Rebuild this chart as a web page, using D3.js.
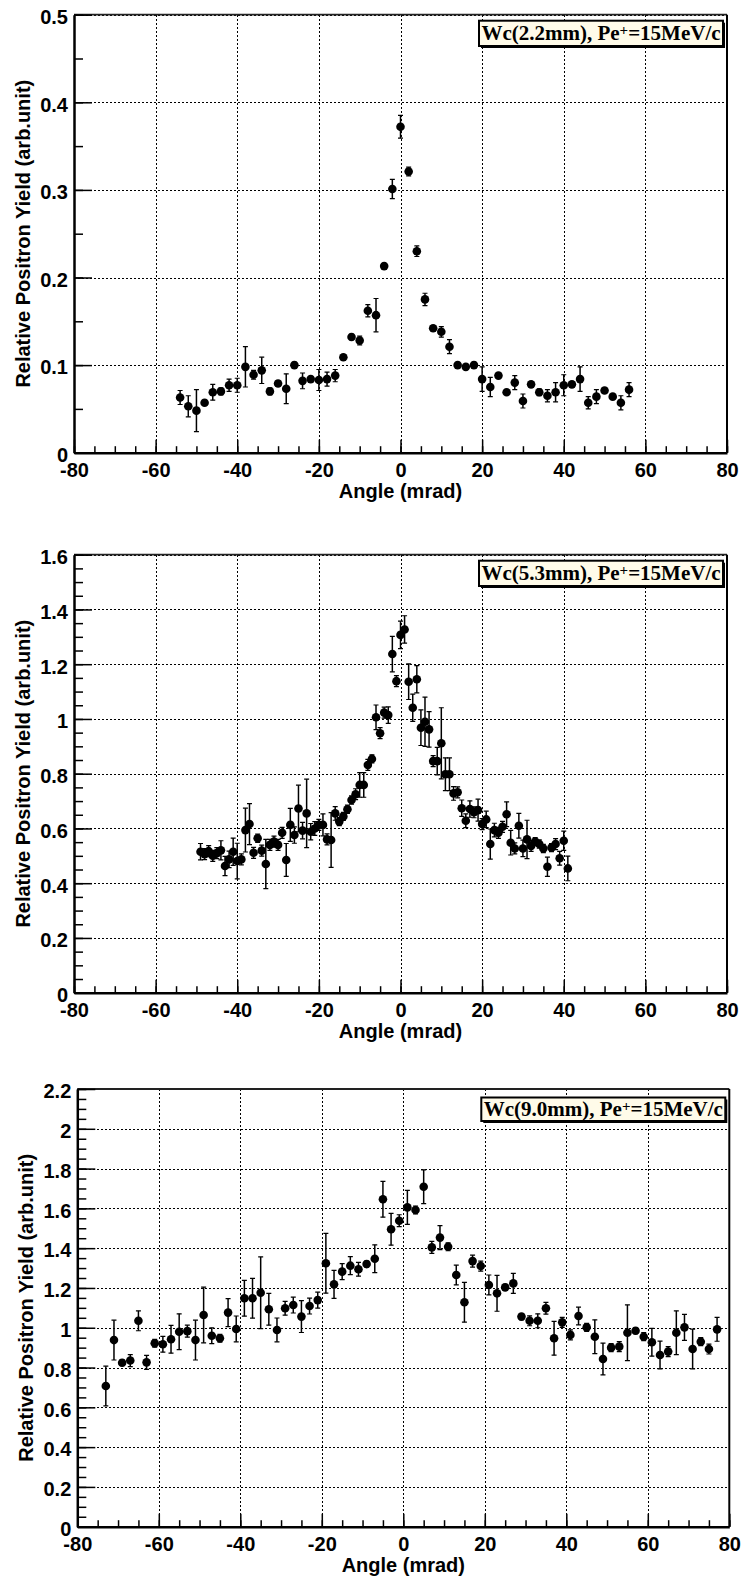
<!DOCTYPE html>
<html>
<head>
<meta charset="utf-8">
<script src="https://cdn.jsdelivr.net/npm/d3@7"></script>
<style>
  body { margin: 0; background: #fff; }
  svg { display: block; }
</style>
</head>
<body>
<svg width="741" height="1577"></svg>
<script>
// ---- data ----
var xTicks = [-80, -60, -40, -20, 0, 20, 40, 60, 80];
var yTicks1 = [0, 0.1, 0.2, 0.3, 0.4, 0.5];
var yTicks2 = [0, 0.2, 0.4, 0.6, 0.8, 1, 1.2, 1.4, 1.6];
var yTicks3 = [0, 0.2, 0.4, 0.6, 0.8, 1, 1.2, 1.4, 1.6, 1.8, 2, 2.2];
var targetLabels = ["Wc(2.2mm), Pe", "Wc(5.3mm), Pe", "Wc(9.0mm), Pe"];
var momentumLabel = "=15MeV/c";
var xTitle = "Angle (mrad)";
var yTitle = "Relative Positron Yield (arb.unit)";

// Wc 2.2 mm
var angle1 = [-54, -52, -50, -48, -46, -44, -42, -40, -38, -36, -34, -32, -30, -28, -26, -24, -22, -20, -18, -16,
  -14, -12, -10, -8, -6, -4, -2, 0, 2, 4, 6, 8, 10, 12, 14, 16, 18, 20, 22, 24,
  26, 28, 30, 32, 34, 36, 38, 40, 42, 44, 46, 48, 50, 52, 54, 56];
var yield1 = [0.063, 0.053, 0.048, 0.057, 0.069, 0.070, 0.077, 0.077, 0.098, 0.089, 0.094, 0.070, 0.079, 0.073, 0.100, 0.082, 0.084, 0.083, 0.084, 0.088,
  0.109, 0.132, 0.128, 0.162, 0.157, 0.213, 0.301, 0.372, 0.321, 0.230, 0.175, 0.142, 0.138, 0.121, 0.100, 0.098, 0.100, 0.084, 0.075, 0.088,
  0.069, 0.080, 0.059, 0.078, 0.069, 0.065, 0.069, 0.077, 0.078, 0.084, 0.057, 0.064, 0.071, 0.064, 0.057, 0.072];
var err1 = [0.008, 0.012, 0.024, 0.003, 0.009, 0.004, 0.007, 0.008, 0.023, 0.005, 0.015, 0.004, 0.003, 0.017, 0.003, 0.009, 0.003, 0.012, 0.008, 0.007,
  0.003, 0.003, 0.005, 0.007, 0.019, 0.002, 0.011, 0.013, 0.005, 0.006, 0.007, 0.003, 0.006, 0.008, 0.002, 0.002, 0.003, 0.014, 0.011, 0.002,
  0.002, 0.008, 0.008, 0.002, 0.004, 0.007, 0.011, 0.012, 0.003, 0.014, 0.007, 0.008, 0.002, 0.002, 0.008, 0.008];

// Wc 5.3 mm
var angle2 = [-49, -48, -47, -46, -45, -44, -43, -42, -41, -40, -39, -38, -37, -36, -35, -34, -33, -32, -31, -30,
  -29, -28, -27, -26, -25, -24, -23, -22, -21, -20, -19, -18, -17, -16, -15, -14, -13, -12, -11, -10,
  -9, -8, -7, -6, -5, -4, -3, -2, -1, 0, 1, 2, 3, 4, 5, 6, 7, 8, 9, 10,
  11, 12, 13, 14, 15, 16, 17, 18, 19, 20, 21, 22, 23, 24, 25, 26, 27, 28, 29, 30,
  31, 32, 33, 34, 35, 36, 37, 38, 39, 40, 41];
var yield2 = [0.515, 0.506, 0.517, 0.500, 0.510, 0.520, 0.463, 0.487, 0.515, 0.481, 0.487, 0.594, 0.616, 0.511, 0.564, 0.519, 0.470, 0.540, 0.552, 0.540,
  0.584, 0.485, 0.613, 0.576, 0.673, 0.592, 0.655, 0.588, 0.600, 0.613, 0.613, 0.560, 0.558, 0.655, 0.625, 0.644, 0.670, 0.704, 0.725, 0.759,
  0.759, 0.832, 0.854, 1.006, 0.948, 1.023, 1.014, 1.237, 1.138, 1.307, 1.327, 1.136, 1.041, 1.145, 0.968, 0.990, 0.962, 0.846, 0.846, 0.911,
  0.798, 0.798, 0.728, 0.732, 0.674, 0.628, 0.671, 0.659, 0.667, 0.616, 0.633, 0.543, 0.594, 0.584, 0.606, 0.652, 0.548, 0.527, 0.610, 0.527,
  0.560, 0.536, 0.552, 0.543, 0.527, 0.460, 0.530, 0.543, 0.491, 0.555, 0.454];
var err2 = [0.030, 0.020, 0.020, 0.020, 0.020, 0.035, 0.035, 0.030, 0.050, 0.065, 0.020, 0.080, 0.075, 0.020, 0.015, 0.020, 0.090, 0.020, 0.020, 0.020,
  0.020, 0.060, 0.060, 0.030, 0.085, 0.030, 0.125, 0.030, 0.025, 0.020, 0.040, 0.020, 0.100, 0.025, 0.015, 0.015, 0.015, 0.015, 0.020, 0.045,
  0.045, 0.020, 0.015, 0.045, 0.020, 0.020, 0.030, 0.065, 0.020, 0.050, 0.050, 0.065, 0.050, 0.050, 0.065, 0.090, 0.065, 0.020, 0.050, 0.130,
  0.060, 0.060, 0.025, 0.020, 0.030, 0.025, 0.030, 0.020, 0.040, 0.020, 0.030, 0.055, 0.025, 0.020, 0.020, 0.045, 0.045, 0.020, 0.045, 0.030,
  0.070, 0.020, 0.015, 0.015, 0.015, 0.035, 0.015, 0.020, 0.025, 0.035, 0.045];

// Wc 9.0 mm
var angle3 = [-73, -71, -69, -67, -65, -63, -61, -59, -57, -55, -53, -51, -49, -47, -45, -43, -41, -39, -37, -35,
  -33, -31, -29, -27, -25, -23, -21, -19, -17, -15, -13, -11, -9, -7, -5, -3, -1, 1, 3, 5,
  7, 9, 11, 13, 15, 17, 19, 21, 23, 25, 27, 29, 31, 33, 35, 37, 39, 41, 43, 45,
  47, 49, 51, 53, 55, 57, 59, 61, 63, 65, 67, 69, 71, 73, 75, 77];
var yield3 = [0.707, 0.938, 0.824, 0.835, 1.035, 0.826, 0.922, 0.917, 0.942, 0.980, 0.983, 0.938, 1.064, 0.960, 0.947, 1.076, 0.994, 1.148, 1.148, 1.176,
  1.093, 0.989, 1.098, 1.114, 1.056, 1.109, 1.139, 1.324, 1.218, 1.282, 1.312, 1.294, 1.320, 1.347, 1.646, 1.495, 1.538, 1.605, 1.592, 1.709,
  1.404, 1.453, 1.407, 1.265, 1.128, 1.335, 1.310, 1.215, 1.173, 1.203, 1.223, 1.056, 1.035, 1.035, 1.098, 0.947, 1.027, 0.964, 1.059, 1.002,
  0.955, 0.843, 0.900, 0.905, 0.975, 0.985, 0.955, 0.927, 0.863, 0.880, 0.975, 1.002, 0.893, 0.930, 0.893, 0.992];
var err3 = [0.100, 0.100, 0.015, 0.030, 0.050, 0.035, 0.020, 0.040, 0.070, 0.090, 0.030, 0.100, 0.140, 0.040, 0.020, 0.070, 0.065, 0.090, 0.100, 0.180,
  0.080, 0.060, 0.035, 0.040, 0.080, 0.040, 0.040, 0.150, 0.070, 0.040, 0.045, 0.035, 0.015, 0.070, 0.090, 0.080, 0.030, 0.085, 0.020, 0.085,
  0.030, 0.060, 0.020, 0.050, 0.100, 0.030, 0.025, 0.050, 0.090, 0.015, 0.050, 0.015, 0.025, 0.035, 0.030, 0.085, 0.025, 0.025, 0.045, 0.020,
  0.085, 0.080, 0.020, 0.025, 0.140, 0.015, 0.020, 0.070, 0.070, 0.025, 0.110, 0.065, 0.100, 0.020, 0.025, 0.060];

var svg = d3.select("svg");
svg.append("rect").attr("width", 741).attr("height", 1577).attr("fill", "#fff");

var panels = [
  {angles: angle1, values: yield1, errors: err1, yTicks: yTicks1, label: targetLabels[0],
    left: 74, right: 727, top: 14.7, bottom: 452.7, boxTop: 20.7, boxH: 25.3},
  {angles: angle2, values: yield2, errors: err2, yTicks: yTicks2, label: targetLabels[1],
    left: 74, right: 727, top: 554.7, bottom: 992.7, boxTop: 560.7, boxH: 25.3},
  {angles: angle3, values: yield3, errors: err3, yTicks: yTicks3, label: targetLabels[2],
    left: 77.3, right: 729.3, top: 1089, bottom: 1526.7, boxTop: 1097.5, boxH: 23.5}
];

panels.forEach(drawPanel);

function crisp(v) {
  return Math.round(v) + 0.5;
}

function drawPanel(p) {
  var yMax = p.yTicks[p.yTicks.length - 1];
  var x = d3.scaleLinear().domain([-80, 80]).range([p.left, p.right]);
  var y = d3.scaleLinear().domain([0, yMax]).range([p.bottom, p.top]);
  var g = svg.append("g");

  // dotted grid
  g.append("g").selectAll("line.gx")
    .data(xTicks.slice(1, -1))
    .enter().append("line")
    .attr("x1", d => crisp(x(d))).attr("x2", d => crisp(x(d)))
    .attr("y1", p.top).attr("y2", p.bottom)
    .attr("stroke", "#000").attr("stroke-width", 1.3)
    .attr("stroke-dasharray", "2,2")
    .attr("shape-rendering", "crispEdges");
  g.append("g").selectAll("line.gy")
    .data(p.yTicks.slice(1))
    .enter().append("line")
    .attr("x1", p.left).attr("x2", p.right)
    .attr("y1", d => crisp(y(d))).attr("y2", d => crisp(y(d)))
    .attr("stroke", "#000").attr("stroke-width", 1.3)
    .attr("stroke-dasharray", "2,2")
    .attr("shape-rendering", "crispEdges");

  // frame (top and right)
  g.append("line").attr("x1", p.left).attr("x2", p.right).attr("y1", p.top).attr("y2", p.top)
    .attr("stroke", "#222").attr("stroke-width", 1.8);
  g.append("line").attr("x1", p.right).attr("x2", p.right).attr("y1", p.top).attr("y2", p.bottom)
    .attr("stroke", "#000").attr("stroke-width", 2);

  // minor ticks
  var xMinor = d3.range(-80, 80.01, 5);
  var yMinor = d3.range(0, yMax + 1e-6, 0.05);
  g.append("g")
    .attr("transform", "translate(0," + p.bottom + ")")
    .call(d3.axisBottom(x).tickValues(xMinor).tickSize(-6.5).tickFormat(""))
    .call(a => a.select(".domain").remove())
    .selectAll("line").attr("stroke-width", 1.5);
  g.append("g")
    .attr("transform", "translate(" + p.left + ",0)")
    .call(d3.axisLeft(y).tickValues(yMinor).tickSize(-9).tickFormat(""))
    .call(a => a.select(".domain").remove())
    .selectAll("line").attr("stroke-width", 1.5);

  // major axes
  var xAxis = g.append("g")
    .attr("transform", "translate(0," + p.bottom + ")")
    .call(d3.axisBottom(x).tickValues(xTicks).tickSize(-13).tickPadding(10).tickSizeOuter(0)
      .tickFormat(d => String(d)));
  var yAxis = g.append("g")
    .attr("transform", "translate(" + p.left + ",0)")
    .call(d3.axisLeft(y).tickValues(p.yTicks).tickSize(-18).tickPadding(6).tickSizeOuter(0)
      .tickFormat(d => String(d)));
  [xAxis, yAxis].forEach(function (a) {
    a.select(".domain").attr("stroke-width", 2.5);
    a.selectAll(".tick line").attr("stroke-width", 1.5);
    a.selectAll("text")
      .attr("font-family", "'Liberation Sans', Arial, sans-serif")
      .attr("font-weight", "bold")
      .attr("font-size", 20)
      .attr("fill", "#000");
  });
  yAxis.selectAll("text").attr("dy", "0.44em");

  // axis titles
  g.append("text")
    .attr("x", (p.left + p.right) / 2).attr("y", p.bottom + 45)
    .attr("text-anchor", "middle")
    .attr("font-family", "'Liberation Sans', Arial, sans-serif")
    .attr("font-weight", "bold").attr("font-size", 20)
    .text(xTitle);
  g.append("text")
    .attr("transform", "translate(" + (p.left - 44.5) + "," + ((p.top + p.bottom) / 2) + ") rotate(-90)")
    .attr("text-anchor", "middle")
    .attr("font-family", "'Liberation Sans', Arial, sans-serif")
    .attr("font-weight", "bold").attr("font-size", 20)
    .text(yTitle);

  // points with error bars
  var pts = p.angles.map((a, i) => ({a: a, v: p.values[i], e: p.errors[i]}));
  var pt = g.append("g").selectAll("g.pt")
    .data(pts)
    .enter().append("g");
  pt.append("line")
    .attr("x1", d => x(d.a)).attr("x2", d => x(d.a))
    .attr("y1", d => y(d.v - d.e)).attr("y2", d => y(d.v + d.e))
    .attr("stroke", "#000").attr("stroke-width", 1.5);
  pt.append("path")
    .attr("d", d => "M" + (x(d.a) - 2.5) + "," + y(d.v - d.e) + "h5"
      + "M" + (x(d.a) - 2.5) + "," + y(d.v + d.e) + "h5")
    .attr("stroke", "#000").attr("stroke-width", 1.2);
  pt.append("circle")
    .attr("cx", d => x(d.a)).attr("cy", d => y(d.v))
    .attr("r", 4.3).attr("fill", "#000");

  // label box
  var bx = p.right - 248, bw = 244;
  g.append("rect")
    .attr("x", bx + 2).attr("y", p.boxTop + 2).attr("width", bw).attr("height", p.boxH)
    .attr("fill", "#000");
  g.append("rect")
    .attr("x", bx).attr("y", p.boxTop).attr("width", bw).attr("height", p.boxH)
    .attr("fill", "#fffbe9").attr("stroke", "#000").attr("stroke-width", 2);
  var t = g.append("text")
    .attr("x", bx + bw / 2).attr("y", p.boxTop + p.boxH / 2 + 7)
    .attr("text-anchor", "middle")
    .attr("font-family", "'Liberation Serif', 'Times New Roman', serif")
    .attr("font-weight", "bold").attr("font-size", 21);
  t.append("tspan").text(p.label);
  t.append("tspan").attr("dy", -5).attr("font-size", 15).text("+");
  t.append("tspan").attr("dy", 5).text(momentumLabel);
}
</script>
</body>
</html>
